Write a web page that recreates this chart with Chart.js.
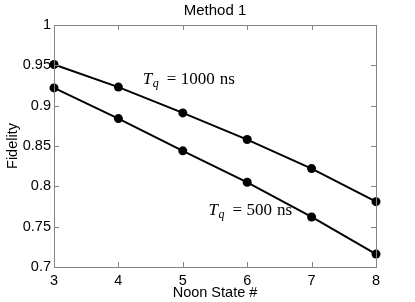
<!DOCTYPE html>
<html>
<head>
<meta charset="utf-8">
<script src="https://cdn.jsdelivr.net/npm/chart.js@4/dist/chart.umd.min.js"></script>
<style>
  html, body { margin: 0; padding: 0; background: #fff; }
  #wrap { width: 415px; height: 302px; }
</style>
</head>
<body>
<div id="wrap"><canvas id="chart" width="415" height="302"></canvas></div>
<script>
const noonStates = [3, 4, 5, 6, 7, 8];
const fidelity1000 = [0.951, 0.923, 0.891, 0.858, 0.822, 0.781];
const fidelity500 = [0.922, 0.884, 0.844, 0.805, 0.762, 0.716];
const xTicks = [3, 4, 5, 6, 7, 8];
const yTicks = [0.7, 0.75, 0.8, 0.85, 0.9, 0.95, 1];
const labels = [
  { x: 4.38, y: 0.927, q: '1000' },
  { x: 5.40, y: 0.7645, q: '500' },
];

const SANS = '"Liberation Sans", Arial, Helvetica, sans-serif';
const SERIF = '"Liberation Serif", "DejaVu Serif", serif';
const AXIS_COLOR = '#858585';

const toPoints = ys => noonStates.map((x, i) => ({ x, y: ys[i] }));

// MATLAB-style box with inward ticks, title and the T_q annotations
const matlabBox = {
  id: 'matlabBox',
  afterDatasetsDraw(chart) {
    const { ctx, chartArea: a, scales: { x, y } } = chart;
    ctx.save();
    ctx.strokeStyle = AXIS_COLOR;
    ctx.lineWidth = 1;
    ctx.beginPath();
    xTicks.forEach(v => {
      const px = Math.round(x.getPixelForValue(v)) + 0.5;
      ctx.moveTo(px, a.bottom); ctx.lineTo(px, a.bottom - 5);
      ctx.moveTo(px, a.top); ctx.lineTo(px, a.top + 5);
    });
    yTicks.forEach(v => {
      const py = Math.round(y.getPixelForValue(v)) + 0.5;
      ctx.moveTo(a.left, py); ctx.lineTo(a.left + 5, py);
      ctx.moveTo(a.right, py); ctx.lineTo(a.right - 5, py);
    });
    ctx.stroke();
    ctx.strokeRect(Math.round(a.left) + 0.5, Math.round(a.top) + 0.5,
      Math.round(a.right - a.left), Math.round(a.bottom - a.top));

    // title
    ctx.fillStyle = '#000';
    ctx.font = '15px ' + SANS;
    ctx.textAlign = 'center';
    ctx.textBaseline = 'middle';
    ctx.fillText('Method 1', (a.left + a.right) / 2, 11);

    // annotations, spaced out like the LaTeX original
    ctx.textAlign = 'left';
    ctx.textBaseline = 'alphabetic';
    labels.forEach(l => {
      const px = x.getPixelForValue(l.x);
      const py = y.getPixelForValue(l.y);
      ctx.font = 'italic 17px ' + SERIF;
      ctx.fillText('T', px, py);
      ctx.font = 'italic 12px ' + SERIF;
      ctx.fillText('q', px + 10, py + 3);
      ctx.font = '17px ' + SERIF;
      ctx.fillText('=', px + 24, py);
      const numX = px + 38;
      ctx.fillText(l.q, numX, py);
      ctx.fillText('ns', numX + ctx.measureText(l.q).width + 5, py);
    });
    ctx.restore();
  }
};

const lineStyle = {
  borderColor: '#000',
  backgroundColor: '#000',
  borderWidth: 2,
  pointRadius: 4.5,
  pointHoverRadius: 4.5,
  pointBorderWidth: 0,
  fill: false,
  tension: 0,
  clip: false,
};

new Chart(document.getElementById('chart'), {
  type: 'line',
  data: {
    datasets: [
      { label: 'Tq = 1000 ns', data: toPoints(fidelity1000), ...lineStyle },
      { label: 'Tq = 500 ns', data: toPoints(fidelity500), ...lineStyle },
    ]
  },
  options: {
    responsive: false,
    animation: false,
    devicePixelRatio: 1,
    layout: { padding: { top: 25, right: 39, left: 0, bottom: 0 } },
    plugins: { legend: { display: false }, title: { display: false }, tooltip: { enabled: false } },
    scales: {
      x: {
        type: 'linear',
        min: 3,
        max: 8,
        afterBuildTicks: s => { s.ticks = xTicks.map(value => ({ value })); },
        afterFit: s => { s.height = 35; },
        grid: { display: false, drawTicks: false },
        border: { display: false },
        ticks: { color: '#000', font: { family: SANS, size: 14.5 }, padding: 5, maxRotation: 0 },
        title: { display: true, text: 'Noon State #', color: '#000', font: { family: SANS, size: 14.5 }, padding: { top: -1, bottom: 0 } },
      },
      y: {
        min: 0.7,
        max: 1,
        afterBuildTicks: s => { s.ticks = yTicks.map(value => ({ value })); },
        afterFit: s => { s.width = 54; },
        grid: { display: false, drawTicks: false },
        border: { display: false },
        ticks: {
          color: '#000', font: { family: SANS, size: 14.5 }, padding: 3,
          callback: v => String(Number(v.toFixed(2))),
        },
        title: { display: true, text: 'Fidelity', color: '#000', font: { family: SANS, size: 14.5 }, padding: { top: 4, bottom: 0 } },
      }
    }
  },
  plugins: [matlabBox]
});
</script>
</body>
</html>
